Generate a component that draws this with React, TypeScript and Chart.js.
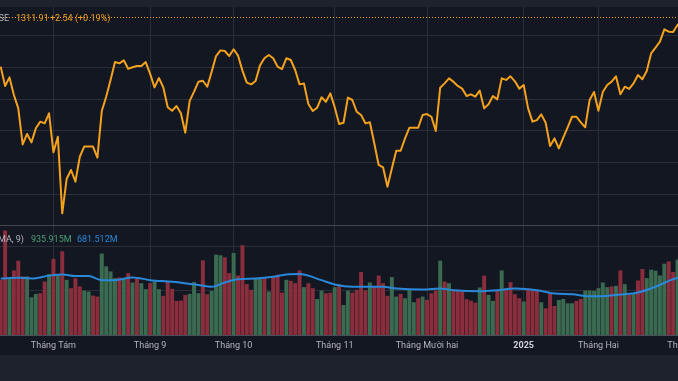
import React, { useEffect, useRef } from "react";
import { Chart, registerables } from "chart.js";

Chart.register(...registerables);

// ---- Data (daily closes, index 0 = first visible session in mid-July 2024) ----
const closes: number[] = [
  1280.6, 1268.4, 1273.8, 1262.7, 1254.2, 1231.4, 1238.0, 1232.7, 1241.6, 1245.8,
  1244.7, 1251.1, 1226.4, 1236.3, 1187.8, 1209.5, 1215.2, 1207.8, 1223.6, 1230.0,
  1230.0, 1230.0, 1223.0, 1252.5, 1261.6, 1272.2, 1283.5, 1282.7, 1284.6, 1279.3,
  1280.2, 1281.0, 1281.0, 1283.5, 1276.0, 1267.5, 1273.4, 1267.5, 1254.9, 1252.7,
  1255.7, 1251.1, 1238.8, 1258.9, 1264.8, 1271.1, 1271.7, 1267.9, 1277.4, 1287.3,
  1290.9, 1290.5, 1287.3, 1291.6, 1287.6, 1278.1, 1270.5, 1269.4, 1271.5, 1281.4,
  1285.9, 1288.0, 1285.9, 1280.6, 1279.1, 1285.9, 1284.8, 1278.5, 1269.4, 1270.0,
  1257.0, 1252.5, 1254.6, 1261.2, 1258.4, 1263.7, 1254.9, 1244.3, 1245.1, 1261.0,
  1259.5, 1252.1, 1250.0, 1244.7, 1245.4, 1232.1, 1218.4, 1216.9, 1204.6, 1216.2,
  1227.4, 1227.4, 1235.2, 1242.0, 1242.0, 1242.0, 1250.0, 1250.6, 1248.9, 1239.9,
  1267.3, 1270.0, 1273.2, 1271.1, 1268.4, 1266.7, 1262.0, 1263.1, 1261.6, 1265.4,
  1254.2, 1256.8, 1262.0, 1259.9, 1273.2, 1272.2, 1274.5, 1271.3, 1266.7, 1269.0,
  1254.2, 1245.8, 1246.8, 1250.4, 1245.1, 1230.4, 1235.2, 1228.9, 1235.7, 1242.2,
  1248.9, 1248.9, 1245.4, 1242.2, 1259.5, 1264.6, 1252.7, 1264.6, 1269.0, 1271.1,
  1274.5, 1263.1, 1267.9, 1266.5, 1270.0, 1275.3, 1272.6, 1277.8, 1289.0, 1292.6,
  1296.4, 1304.2, 1302.7, 1302.5, 1307.0, 1309.37, 1311.91,
];

// Volume in millions of shares
const volumes: number[] = [
  619, 1176, 638, 725, 835, 657, 657, 422, 460, 468,
  600, 684, 854, 684, 941, 619, 525, 638, 544, 498,
  487, 441, 430, 915, 771, 714, 638, 646, 638, 695,
  589, 638, 581, 513, 581, 600, 513, 438, 600, 517,
  381, 384, 449, 460, 593, 468, 839, 456, 494, 903,
  896, 873, 695, 922, 668, 1009, 570, 506, 638, 638,
  646, 487, 657, 676, 475, 619, 608, 581, 725, 536,
  581, 525, 403, 498, 468, 475, 536, 570, 335, 498,
  475, 506, 707, 500, 589, 544, 668, 581, 438, 650,
  430, 460, 411, 506, 366, 411, 430, 392, 468, 498,
  835, 600, 581, 506, 506, 487, 400, 384, 361, 532,
  665, 449, 381, 506, 725, 525, 593, 456, 411, 373,
  513, 513, 498, 366, 297, 468, 324, 392, 403, 354,
  354, 381, 403, 498, 498, 494, 525, 589, 536, 544,
  551, 725, 570, 456, 468, 611, 741, 638, 733, 722,
  668, 801, 827, 707, 847, 800, 935.915,
];

// 1 = up session (green), 0 = down session (red)
const volUp: number[] = [
  0, 0, 1, 0, 0, 0, 1, 1, 1, 0,
  0, 1, 0, 1, 0, 1, 0, 0, 0, 1,
  1, 0, 0, 1, 1, 1, 1, 0, 1, 0,
  1, 0, 1, 1, 0, 1, 1, 0, 0, 0,
  0, 0, 0, 1, 1, 1, 0, 0, 1, 1,
  1, 0, 0, 1, 0, 0, 0, 0, 1, 1,
  0, 1, 0, 0, 0, 1, 0, 0, 0, 1,
  0, 0, 1, 1, 0, 0, 1, 0, 1, 1,
  0, 0, 0, 0, 1, 0, 0, 0, 0, 1,
  1, 0, 1, 1, 1, 0, 1, 0, 0, 0,
  1, 0, 1, 0, 0, 0, 0, 0, 0, 1,
  0, 1, 1, 0, 1, 0, 0, 0, 0, 1,
  0, 0, 0, 1, 0, 0, 0, 1, 1, 1,
  1, 0, 0, 1, 1, 1, 1, 1, 1, 0,
  1, 0, 1, 0, 1, 0, 0, 1, 1, 1,
  1, 1, 0, 0, 1, 1, 1,
];

// Volume moving average (MA 9), read at these session indices
const maIdx: number[] = [
  0, 4, 7, 11, 14, 17, 20, 23, 26, 30, 34, 39, 45, 48, 51, 54, 58, 62, 65, 68, 73,
  76, 80, 87, 90, 96, 100, 103, 109, 113, 117, 122, 126, 130, 134, 136, 141, 145,
  149, 152, 154, 156,
];
const maVals: number[] = [
  638, 646, 638, 670, 684, 665, 665, 619, 619, 650, 619, 600, 563, 544, 593, 630,
  638, 657, 684, 688, 619, 570, 544, 544, 525, 513, 525, 506, 494, 506, 525, 506,
  468, 460, 438, 438, 456, 479, 544, 611, 646, 681.512,
];

// Month ticks (session index of first session of each month)
const monthIdx: number[] = [12, 34, 53, 76, 97, 119, 136, 156];
const monthLabels: string[] = [
  "Tháng Tám", "Tháng 9", "Tháng 10", "Tháng 11", "Tháng Mười hai", "2025", "Tháng Hai", "Tháng Ba",
];

const priceTicks: number[] = [1200, 1220, 1240, 1260, 1280, 1300];
const volTicks: number[] = [500, 1000];

const exchangeLabel = "HOSE";
const maLabel = "MA, 9)";

// ---- Styles ----
const X_MIN = -0.16;
const X_MAX = 154.11;
const PRICE_MIN = 1180.4;
const PRICE_MAX = 1318.35;
const VOL_MAX = 1230;

const BG = "#131722";
const BAND = "#1e222d";
const GRID = "#2a2e39";
const ORANGE = "#f4a11d";
const BLUE = "#2a88d8";
const UP = "#3a6a50";
const DOWN = "#8a2d3c";
const TEXT = "#b2b5be";
const FONT = "Roboto, 'Noto Sans', sans-serif";

function fmt(n: number, d = 2) {
  return n.toFixed(d);
}

export default function App() {
  const topRef = useRef<HTMLCanvasElement | null>(null);
  const botRef = useRef<HTMLCanvasElement | null>(null);

  useEffect(() => {
    document.body.style.margin = "0";
    document.body.style.background = BAND;

    const priceLine = {
      id: "priceLine",
      beforeDatasetsDraw(chart: any) {
        const ctx = chart.ctx;
        const y = Math.round(chart.scales.y.getPixelForValue(closes[closes.length - 1])) + 0.5;
        const { left, right } = chart.chartArea;
        ctx.save();
        ctx.strokeStyle = ORANGE;
        ctx.lineWidth = 1;
        ctx.setLineDash([1, 2]);
        ctx.beginPath();
        ctx.moveTo(left, y);
        ctx.lineTo(right, y);
        ctx.stroke();
        ctx.restore();
      },
    };

    const xMonthTicks = (s: any) => {
      s.ticks = monthIdx.map((v) => ({ value: v }));
    };

    const top = new Chart(topRef.current as HTMLCanvasElement, {
      type: "line",
      data: {
        datasets: [
          {
            data: closes.map((y, i) => ({ x: i, y })),
            borderColor: ORANGE,
            borderWidth: 2,
            pointRadius: 0,
            tension: 0,
            borderJoinStyle: "round",
            fill: false,
          } as any,
        ],
      },
      options: {
        animation: false,
        responsive: false,
        maintainAspectRatio: false,
        events: [],
        layout: { padding: 0, autoPadding: false },
        plugins: { legend: { display: false }, tooltip: { enabled: false } },
        scales: {
          x: {
            type: "linear",
            min: X_MIN,
            max: X_MAX,
            afterBuildTicks: xMonthTicks,
            afterFit: (s: any) => {
              s.height = 0;
              s.paddingLeft = 0;
              s.paddingRight = 0;
            },
            ticks: { display: false },
            grid: { color: GRID, drawTicks: false, lineWidth: 1 },
            border: { display: false },
          },
          y: {
            type: "linear",
            min: PRICE_MIN,
            max: PRICE_MAX,
            afterBuildTicks: (s: any) => {
              s.ticks = priceTicks.map((v) => ({ value: v }));
            },
            afterFit: (s: any) => {
              s.width = 0;
            },
            ticks: { display: false },
            grid: { color: GRID, drawTicks: false, lineWidth: 1 },
            border: { display: false },
          },
        },
      } as any,
      plugins: [priceLine],
    });

    const bot = new Chart(botRef.current as HTMLCanvasElement, {
      type: "bar",
      data: {
        datasets: [
          {
            type: "line",
            data: maIdx.map((x, k) => ({ x, y: maVals[k] })),
            borderColor: BLUE,
            borderWidth: 2,
            pointRadius: 0,
            cubicInterpolationMode: "monotone",
            order: 0,
          } as any,
          {
            type: "bar",
            data: volumes.map((y, i) => ({ x: i, y })),
            backgroundColor: volUp.map((u) => (u ? UP : DOWN)),
            barThickness: 3.3,
            order: 1,
          } as any,
        ],
      },
      options: {
        animation: false,
        responsive: false,
        maintainAspectRatio: false,
        events: [],
        layout: { padding: 0, autoPadding: false },
        plugins: { legend: { display: false }, tooltip: { enabled: false } },
        scales: {
          x: {
            type: "linear",
            min: X_MIN,
            max: X_MAX,
            offset: false,
            afterBuildTicks: xMonthTicks,
            afterFit: (s: any) => {
              s.height = 20;
              s.paddingLeft = 0;
              s.paddingRight = 0;
            },
            ticks: {
              autoSkip: false,
              maxRotation: 0,
              minRotation: 0,
              padding: 5,
              callback: (v: any) => {
                const k = monthIdx.indexOf(Number(v));
                return k >= 0 ? monthLabels[k] : "";
              },
              font: (ctx: any) => ({
                family: FONT,
                size: 9,
                weight: ctx.tick && ctx.tick.label === "2025" ? "bold" : "normal",
              }),
              color: (ctx: any) => (ctx.tick && ctx.tick.label === "2025" ? "#d1d4dc" : TEXT),
            },
            grid: { color: GRID, drawTicks: false, lineWidth: 1, offset: false },
            border: { display: true, color: "#4a4e59", width: 1 },
          },
          y: {
            type: "linear",
            min: 0,
            max: VOL_MAX,
            afterBuildTicks: (s: any) => {
              s.ticks = volTicks.map((v) => ({ value: v }));
            },
            afterFit: (s: any) => {
              s.width = 0;
            },
            ticks: { display: false },
            grid: { color: GRID, drawTicks: false, lineWidth: 1 },
            border: { display: false },
          },
        },
      } as any,
    });

    return () => {
      top.destroy();
      bot.destroy();
    };
  }, []);

  const last = closes[closes.length - 1];
  const prev = closes[closes.length - 2];
  const chg = last - prev;
  const pct = (chg / prev) * 100;
  const lastVol = volumes[volumes.length - 1];
  const lastMa = maVals[maVals.length - 1];

  const txt: React.CSSProperties = {
    position: "absolute",
    fontFamily: FONT,
    fontSize: 9,
    lineHeight: "11px",
    whiteSpace: "nowrap",
  };

  return (
    <div
      style={{
        position: "relative",
        width: 678,
        height: 381,
        background: BAND,
        overflow: "hidden",
      }}
    >
      <div style={{ position: "absolute", left: 0, top: 7, width: 678, height: 218, background: BG }}>
        <canvas ref={topRef} width={678} height={218} style={{ display: "block" }} />
      </div>
      <div style={{ position: "absolute", left: 0, top: 225, width: 678, height: 1, background: "#434651" }} />
      <div style={{ position: "absolute", left: 0, top: 226, width: 678, height: 129, background: BG }}>
        <canvas ref={botRef} width={678} height={129} style={{ display: "block" }} />
      </div>

      <span style={{ ...txt, left: -14, top: 13, color: TEXT }}>{exchangeLabel}</span>
      <span style={{ ...txt, left: 16, top: 13, color: ORANGE }}>{fmt(last)}</span>
      <span style={{ ...txt, left: 50, top: 13, color: ORANGE }}>
        {(chg >= 0 ? "+" : "") + fmt(chg)} ({(pct >= 0 ? "+" : "") + fmt(pct)}%)
      </span>

      <span style={{ ...txt, left: -2, top: 234, color: TEXT }}>{maLabel}</span>
      <span style={{ ...txt, left: 31, top: 234, color: "#4a9e76" }}>{fmt(lastVol, 3)}M</span>
      <span style={{ ...txt, left: 77, top: 234, color: BLUE }}>{fmt(lastMa, 3)}M</span>
    </div>
  );
}
